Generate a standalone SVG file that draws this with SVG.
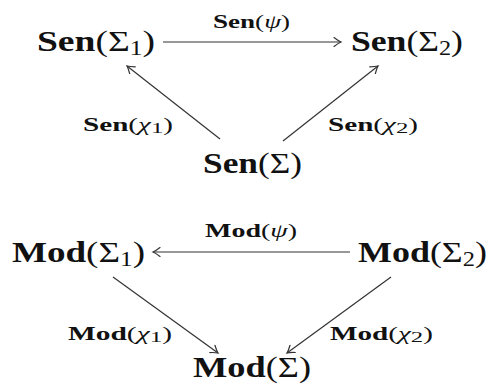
<svg xmlns="http://www.w3.org/2000/svg" width="494" height="390" viewBox="0 0 494 390">
  <style>
    .big { font-family: "Liberation Serif", "DejaVu Serif", serif; font-size: 30px; fill: #111; }
    .lbl { font-family: "Liberation Serif", "DejaVu Serif", serif; font-size: 18px; fill: #111; }
    .b { font-weight: bold; }
    .i { font-style: italic; }
    .sub { font-size: 0.68em; }
    .lsub { font-size: 0.85em; }
    .edge { stroke: #333; stroke-width: 1.2; fill: none; marker-end: url(#to); }
  </style>
  <defs>
    <marker id="to" viewBox="-8 -5 10 10" refX="0" refY="0" markerWidth="10" markerHeight="10" markerUnits="userSpaceOnUse" orient="auto">
      <path d="M-7,-4.5 Q-2.5,-1 0,0 Q-2.5,1 -7,4.5" fill="none" stroke="#333" stroke-width="1.2" stroke-linecap="round"/>
    </marker>
  </defs>
  <rect width="494" height="390" fill="#fff"/>

  <!-- connectors -->
  <g id="connectors">
    <line class="edge" x1="163" y1="42" x2="341" y2="42"/>
    <line class="edge" x1="220" y1="139" x2="127" y2="66"/>
    <line class="edge" x1="283" y1="141" x2="378" y2="66"/>
    <line class="edge" x1="350" y1="252" x2="153" y2="252"/>
    <line class="edge" x1="113" y1="277" x2="218" y2="353"/>
    <line class="edge" x1="391" y1="277" x2="287" y2="353"/>
  </g>

  <!-- connector labels -->
  <g id="edge-labels">
    <text class="lbl" x="213" y="28" textLength="77" lengthAdjust="spacingAndGlyphs"><tspan class="b">Sen</tspan>(<tspan class="i">ψ</tspan>)</text>
    <text class="lbl" x="83" y="131" textLength="90" lengthAdjust="spacingAndGlyphs"><tspan class="b">Sen</tspan>(<tspan class="i">χ</tspan><tspan class="lsub" dy="2">1</tspan><tspan dy="-2">)</tspan></text>
    <text class="lbl" x="328" y="131" textLength="90" lengthAdjust="spacingAndGlyphs"><tspan class="b">Sen</tspan>(<tspan class="i">χ</tspan><tspan class="lsub" dy="2">2</tspan><tspan dy="-2">)</tspan></text>
    <text class="lbl" x="205" y="237" textLength="92" lengthAdjust="spacingAndGlyphs"><tspan class="b">Mod</tspan>(<tspan class="i">ψ</tspan>)</text>
    <text class="lbl" x="68" y="340" textLength="104" lengthAdjust="spacingAndGlyphs"><tspan class="b">Mod</tspan>(<tspan class="i">χ</tspan><tspan class="lsub" dy="2">1</tspan><tspan dy="-2">)</tspan></text>
    <text class="lbl" x="330" y="340" textLength="103" lengthAdjust="spacingAndGlyphs"><tspan class="b">Mod</tspan>(<tspan class="i">χ</tspan><tspan class="lsub" dy="2">2</tspan><tspan dy="-2">)</tspan></text>
  </g>

  <!-- sentence functor triangle -->
  <g id="sen-sigma1">
    <text class="big" x="37" y="51" textLength="118" lengthAdjust="spacingAndGlyphs"><tspan class="b">Sen</tspan>(Σ<tspan class="sub" dy="4">1</tspan><tspan dy="-4">)</tspan></text>
  </g>
  <g id="sen-sigma2">
    <text class="big" x="351" y="51" textLength="112" lengthAdjust="spacingAndGlyphs"><tspan class="b">Sen</tspan>(Σ<tspan class="sub" dy="4">2</tspan><tspan dy="-4">)</tspan></text>
  </g>
  <g id="sen-sigma">
    <text class="big" x="203" y="173" textLength="99" lengthAdjust="spacingAndGlyphs"><tspan class="b">Sen</tspan>(Σ)</text>
  </g>

  <!-- model functor triangle -->
  <g id="mod-sigma1">
    <text class="big" x="12" y="262" textLength="133" lengthAdjust="spacingAndGlyphs"><tspan class="b">Mod</tspan>(Σ<tspan class="sub" dy="4">1</tspan><tspan dy="-4">)</tspan></text>
  </g>
  <g id="mod-sigma2">
    <text class="big" x="358" y="262" textLength="129" lengthAdjust="spacingAndGlyphs"><tspan class="b">Mod</tspan>(Σ<tspan class="sub" dy="4">2</tspan><tspan dy="-4">)</tspan></text>
  </g>
  <g id="mod-sigma">
    <text class="big" x="193" y="377" textLength="118" lengthAdjust="spacingAndGlyphs"><tspan class="b">Mod</tspan>(Σ)</text>
  </g>
</svg>
